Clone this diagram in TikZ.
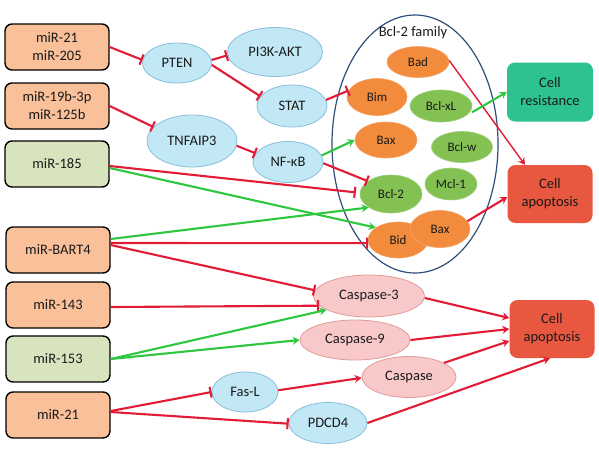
\documentclass[tikz,border=0pt]{standalone}
\usepackage{fontspec}
\setmainfont{Carlito}
\usetikzlibrary{shapes.geometric,arrows.meta}
\definecolor{boxor}{HTML}{FAC09A}
\definecolor{boxgr}{HTML}{D7E4BD}
\definecolor{bluefill}{HTML}{C2E8F6}
\definecolor{blueedge}{HTML}{86BFDC}
\definecolor{pinkfill}{HTML}{F9C9C9}
\definecolor{pinkedge}{HTML}{DE9C9C}
\definecolor{orfill}{HTML}{F28C3C}
\definecolor{oredge}{HTML}{F5A466}
\definecolor{grfill}{HTML}{84C153}
\definecolor{gredge}{HTML}{9DCF76}
\definecolor{resc}{HTML}{2EC28E}
\definecolor{apopc}{HTML}{E8573F}
\definecolor{famc}{HTML}{2F4E7A}
\definecolor{redc}{HTML}{E21B36}
\definecolor{greenc}{HTML}{2FC740}
\definecolor{txt}{HTML}{1A1A1A}
\begin{document}
\begin{tikzpicture}[x=1pt,y=-1pt,
  every node/.style={text=txt},
  bigfont/.style={font=\fontsize{14.5}{18}\selectfont},
  smallfont/.style={font=\fontsize{13}{15}\selectfont},
  mbox/.style={draw=black,line width=1.4pt,rounded corners=7pt,minimum width=104pt,minimum height=46pt,align=center,inner sep=0pt,bigfont},
  orb/.style={mbox,fill=boxor},
  grb/.style={mbox,fill=boxgr},
  bell/.style={ellipse,draw=blueedge,line width=0.8pt,fill=bluefill,inner sep=0pt,bigfont},
  pell/.style={ellipse,draw=pinkedge,line width=0.8pt,fill=pinkfill,inner sep=0pt,bigfont},
  oell/.style={ellipse,draw=oredge,line width=0.6pt,fill=orfill,inner sep=0pt,smallfont},
  gell/.style={ellipse,draw=gredge,line width=0.6pt,fill=grfill,inner sep=0pt,smallfont},
  resbox/.style={rounded corners=8pt,minimum width=86pt,minimum height=59pt,align=center,inner sep=0pt,bigfont},
  inh/.style={draw=redc,line width=2.1pt,-{Bar[width=11pt]}},
  act/.style={draw=redc,line width=2.1pt,-{Stealth[length=7pt,width=8pt,inset=2.5pt]}},
  gact/.style={draw=greenc,line width=2.1pt,-{Stealth[length=7pt,width=8pt,inset=2.5pt]}},
]
\useasboundingbox[fill=white] (0,0) rectangle (599,451);

% left boxes
\node[orb] (b1) at (57,47) {miR-21\\miR-205};
\node[orb] (b2) at (57,106) {miR-19b-3p\\miR-125b};
\node[grb] (b3) at (57,164) {miR-185};
\node[orb] (b4) at (58,250) {miR-BART4};
\node[orb] (b5) at (58,305) {miR-143};
\node[grb] (b6) at (58,359) {miR-153};
\node[orb] (b7) at (58,415) {miR-21};

% blue ellipses
\node[bell,minimum width=69pt,minimum height=40pt] (pten) at (177,63) {PTEN};
\node[bell,minimum width=95pt,minimum height=49pt] (pi3k) at (275,52) {PI3K-AKT};
\node[bell,minimum width=70pt,minimum height=42pt] (stat) at (292,106) {STAT};
\node[bell,minimum width=90pt,minimum height=52pt] (tnf) at (192,141) {TNFAIP3};
\node[bell,minimum width=70pt,minimum height=41pt] (nfkb) at (288,162) {NF-κB};
\node[bell,minimum width=66pt,minimum height=40pt] (fasl) at (245,392) {Fas-L};
\node[bell,minimum width=78pt,minimum height=41pt] (pdcd4) at (328,423) {PDCD4};

% Bcl-2 family
\node[ellipse,draw=famc,line width=1.2pt,minimum width=166pt,minimum height=258pt] (fam) at (415,144) {};
\node[bigfont] (famlbl) at (413,33) {Bcl-2 family};
\node[oell,minimum width=62pt,minimum height=31pt] (bad) at (418,62) {Bad};
\node[oell,minimum width=60pt,minimum height=37pt] (bim) at (377,97) {Bim};
\node[gell,minimum width=62pt,minimum height=32pt] (bclxl) at (441,106) {Bcl-xL};
\node[oell,minimum width=62pt,minimum height=36pt] (bax) at (386,140) {Bax};
\node[gell,minimum width=61pt,minimum height=31pt] (bclw) at (462,147) {Bcl-w};
\node[gell,minimum width=62pt,minimum height=38pt] (bcl2) at (391,194) {Bcl-2};
\node[gell,minimum width=52pt,minimum height=32pt] (mcl1) at (451,184) {Mcl-1};
\node[oell,minimum width=60pt,minimum height=36pt] (bid) at (398,240) {Bid};
\node[oell,minimum width=60pt,minimum height=37pt] (bax2) at (440,229) {Bax};

% caspases
\node[pell,minimum width=111pt,minimum height=42pt] (casp3) at (369,296) {Caspase-3};
\node[pell,minimum width=110pt,minimum height=40pt] (casp9) at (355,340) {Caspase-9};
\node[pell,minimum width=94pt,minimum height=41pt] (casp) at (409,377) {Caspase};

% outcomes
\node[resbox,fill=resc] (res) at (550,92) {Cell\\resistance};
\node[resbox,fill=apopc,minimum width=85pt,minimum height=58pt] (apop1) at (550,194) {Cell\\apoptosis};
\node[resbox,fill=apopc,minimum width=85pt,minimum height=58pt] (apop2) at (552,329) {Cell\\apoptosis};

% connectors
\draw[inh] (b1.east) -- (pten.175);
\draw[inh] (pten.5) -- (pi3k.184);
\draw[inh] (pten.-3) -- (stat.163);
\draw[inh] (b2.east) -- (tnf.160);
\draw[inh] (tnf.-6) -- (nfkb.165);
\draw[inh] (stat.10) -- (bim.167);
\draw[gact] (nfkb.11) -- (bax.180);
\draw[inh] (nfkb.-2) -- (bcl2.151);
\draw[inh] ([yshift=-2pt]b3.east) -- ([xshift=-4pt]bcl2.177);
\draw[gact] ([yshift=-4pt]b3.east) -- (bid.151);
\draw[gact] ([yshift=11pt]b4.east) -- (bcl2.211);
\draw[inh] ([yshift=7pt]b4.east) -- (bid.186);
\draw[inh] ([yshift=5pt]b4.east) -- (casp3.174);
\draw[inh] ([yshift=-2pt]b5.east) -- (casp3.191);
\draw[gact] (b6.east) -- (casp3.198);
\draw[gact] (b6.east) -- (casp9.180);
\draw[inh] ([yshift=4pt]b7.east) -- (fasl.180);
\draw[inh] ([yshift=3pt]b7.east) -- (pdcd4.181);
\draw[act] (fasl.3) -- (casp.181);
\draw[act] (casp3.-2) -- ([yshift=11pt]apop2.west);
\draw[act] (casp9.east) -- (apop2.west);
\draw[act] (casp.22) -- ([yshift=-12pt]apop2.west);
\draw[act] (pdcd4.east) -- ([xshift=-2pt]apop2.south);
\draw[act,line width=1.4pt] (bad.3) -- ([xshift=-25pt]apop1.north);
\draw[gact,shorten <=9pt] (bclxl.-25) -- (res.west);
\draw[act] (bax2.16) -- ([yshift=-3pt]apop1.west);
\end{tikzpicture}
\end{document}
